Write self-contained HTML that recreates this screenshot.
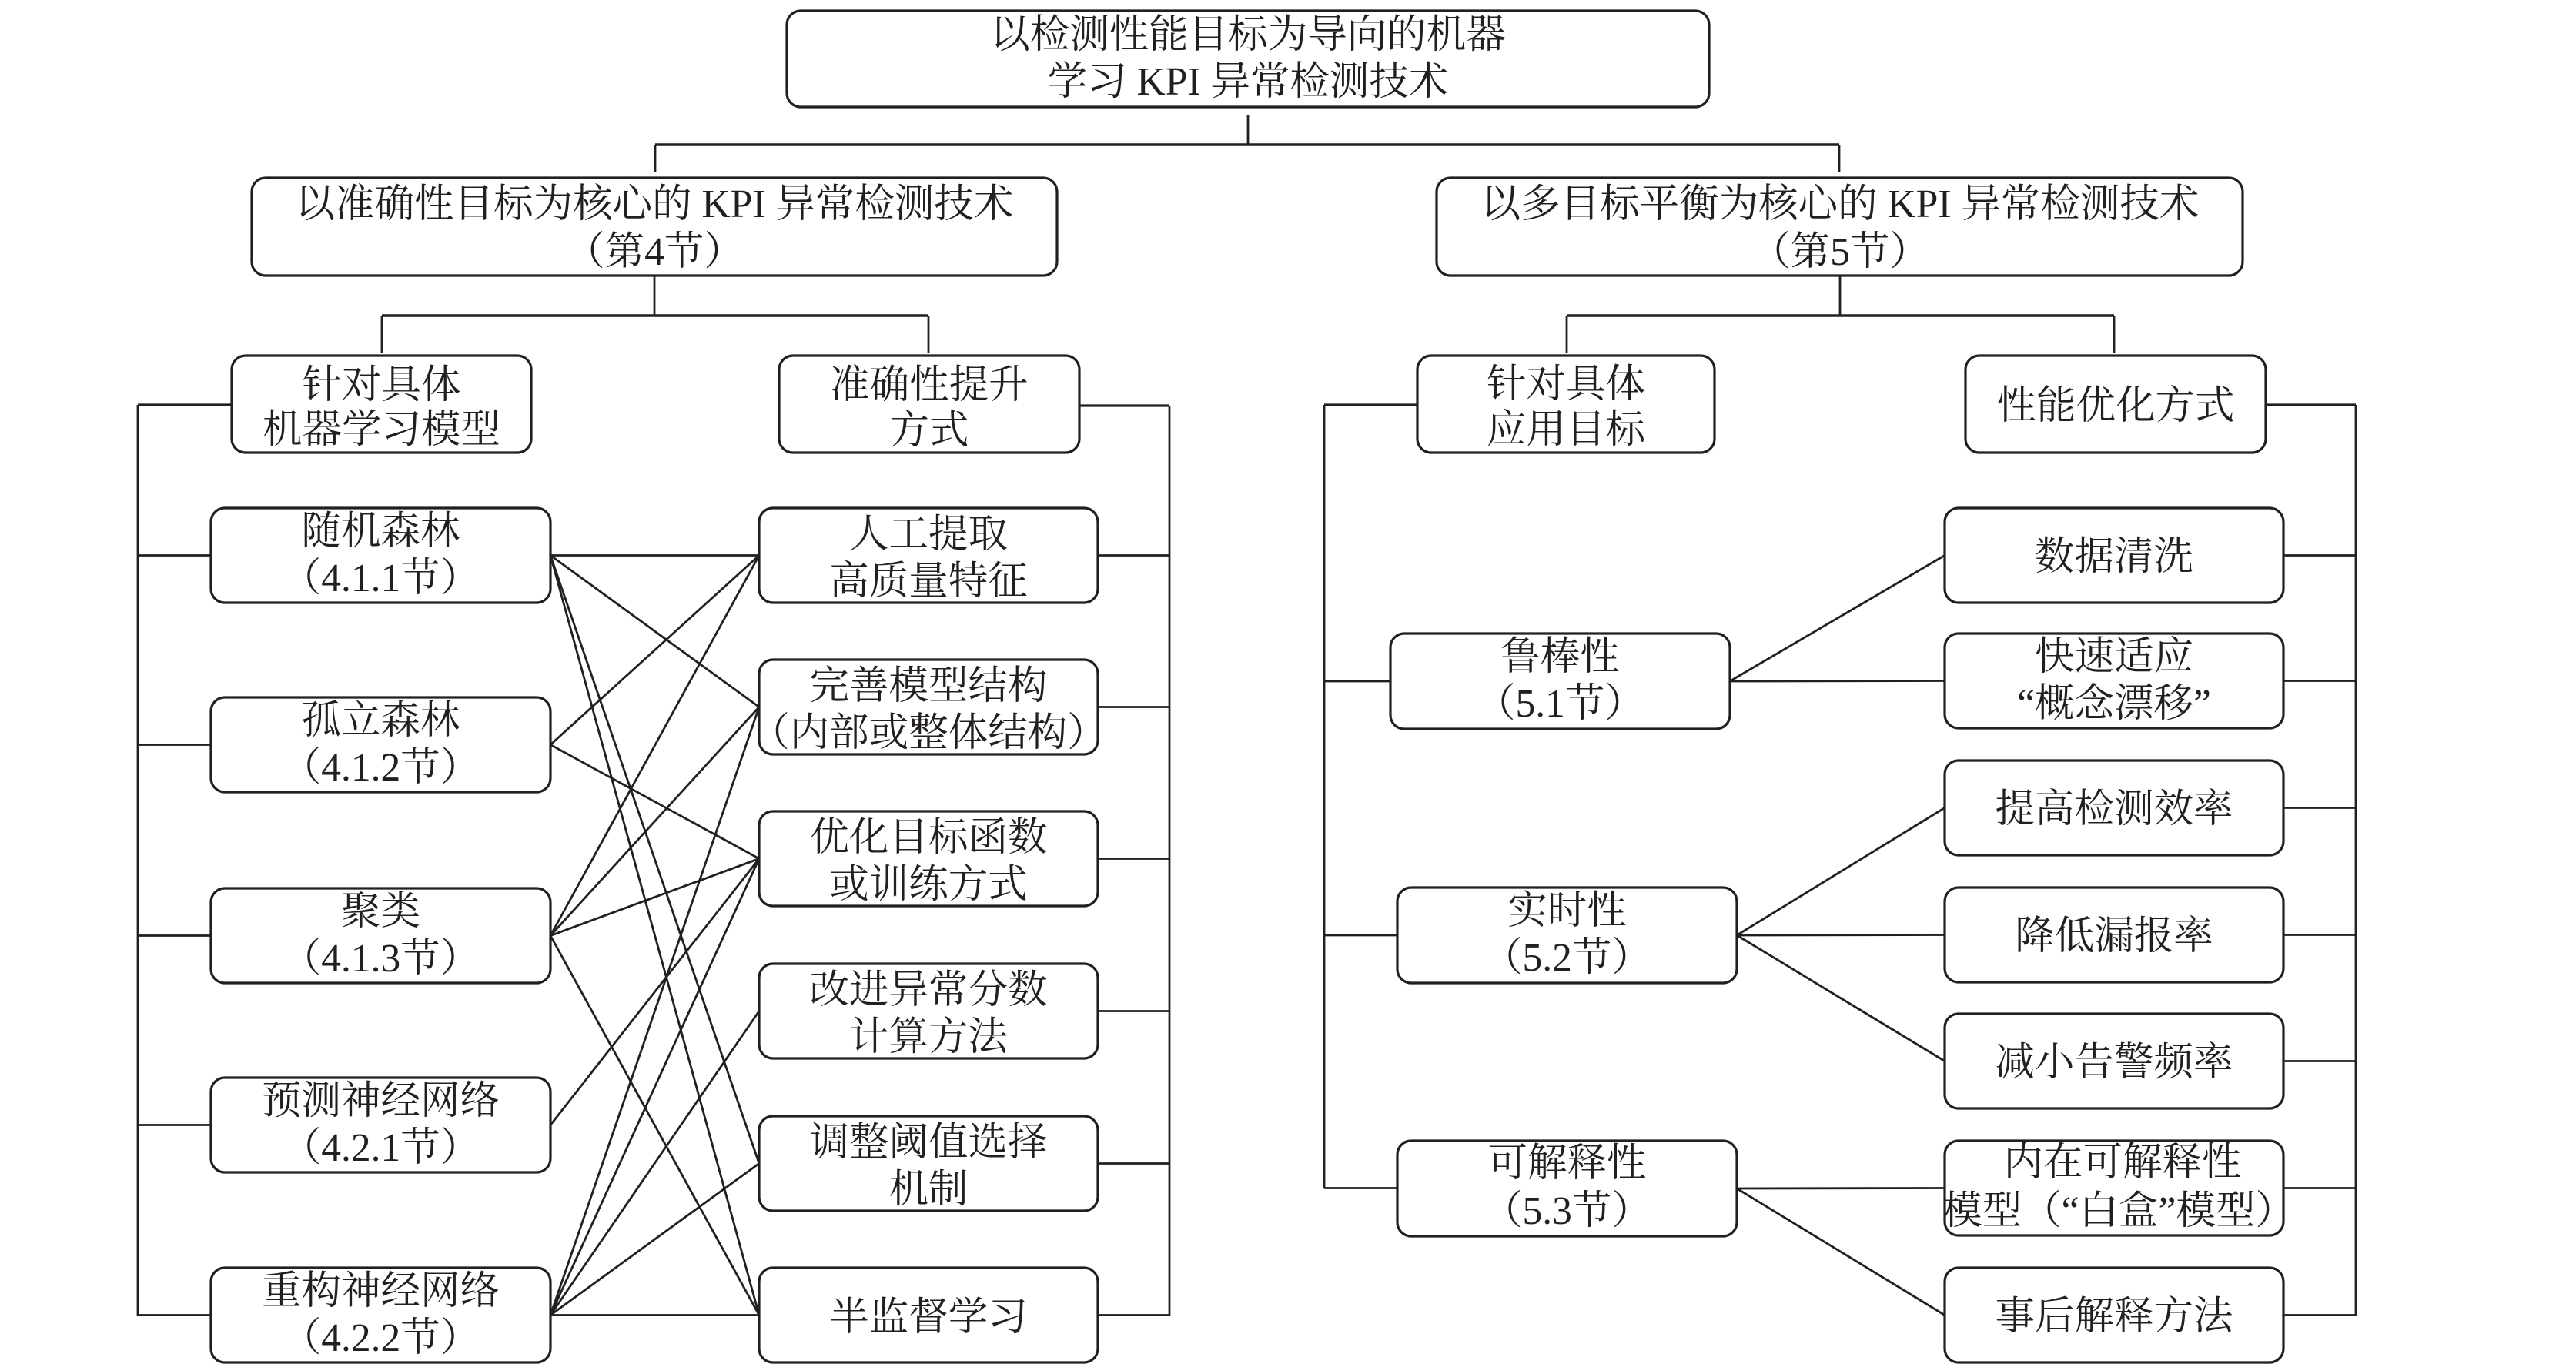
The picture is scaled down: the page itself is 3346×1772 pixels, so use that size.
<!DOCTYPE html>
<html>
<head>
<meta charset="utf-8">
<style>
  html,body{margin:0;padding:0;background:#fff;}
  svg{display:block;}
  text{font-family:"Liberation Serif","Noto Serif CJK SC","Noto Serif CJK JP",serif;font-size:51.5px;fill:#231f20;text-anchor:middle;}
</style>
</head>
<body>
<svg width="3346" height="1772" viewBox="0 0 3346 1772" xmlns="http://www.w3.org/2000/svg">
  <rect x="0" y="0" width="3346" height="1772" fill="#fff"/>

  <!-- connectors -->
  <g stroke="#231f20" stroke-width="2.8" fill="none" stroke-linecap="butt">
    <!-- top level -->
    <line x1="1621" y1="149" x2="1621" y2="188"/>
    <line x1="851" y1="188" x2="2389" y2="188" stroke-width="3.4"/>
    <line x1="851" y1="188" x2="851" y2="223"/>
    <line x1="2389" y1="188" x2="2389" y2="223"/>
    <!-- left L2 -> L3 -->
    <line x1="850" y1="358" x2="850" y2="410"/>
    <line x1="496" y1="410" x2="1206" y2="410" stroke-width="3.4"/>
    <line x1="496" y1="410" x2="496" y2="458"/>
    <line x1="1206" y1="410" x2="1206" y2="458"/>
    <!-- right L2 -> L3 -->
    <line x1="2390" y1="358" x2="2390" y2="410"/>
    <line x1="2035" y1="410" x2="2746" y2="410" stroke-width="3.4"/>
    <line x1="2035" y1="410" x2="2035" y2="458"/>
    <line x1="2746" y1="410" x2="2746" y2="458"/>

    <!-- bus 1 (models) -->
    <line x1="179" y1="526" x2="301" y2="526" stroke-width="3.2"/>
    <line x1="179" y1="526" x2="179" y2="1709"/>
    <line x1="179" y1="721.5" x2="274" y2="721.5"/>
    <line x1="179" y1="967.5" x2="274" y2="967.5"/>
    <line x1="179" y1="1215.5" x2="274" y2="1215.5"/>
    <line x1="179" y1="1461.5" x2="274" y2="1461.5"/>
    <line x1="179" y1="1708.5" x2="274" y2="1708.5"/>

    <!-- bus 2 (methods) -->
    <line x1="1402" y1="527" x2="1519" y2="527" stroke-width="3.2"/>
    <line x1="1519" y1="527" x2="1519" y2="1710"/>
    <line x1="1426" y1="721.5" x2="1519" y2="721.5"/>
    <line x1="1426" y1="918.5" x2="1519" y2="918.5"/>
    <line x1="1426" y1="1115.5" x2="1519" y2="1115.5"/>
    <line x1="1426" y1="1313.5" x2="1519" y2="1313.5"/>
    <line x1="1426" y1="1511.5" x2="1519" y2="1511.5"/>
    <line x1="1426" y1="1708.5" x2="1519" y2="1708.5"/>

    <!-- bus 3 (targets) -->
    <line x1="1720" y1="526" x2="1841" y2="526" stroke-width="3.2"/>
    <line x1="1720" y1="526" x2="1720" y2="1544"/>
    <line x1="1720" y1="885" x2="1806" y2="885"/>
    <line x1="1720" y1="1215" x2="1815" y2="1215"/>
    <line x1="1720" y1="1543.5" x2="1815" y2="1543.5"/>

    <!-- bus 4 (optimisations) -->
    <line x1="2943" y1="526" x2="3060" y2="526" stroke-width="3.2"/>
    <line x1="3060" y1="526" x2="3060" y2="1710"/>
    <line x1="2966" y1="721.5" x2="3060" y2="721.5"/>
    <line x1="2966" y1="884.5" x2="3060" y2="884.5"/>
    <line x1="2966" y1="1049.5" x2="3060" y2="1049.5"/>
    <line x1="2966" y1="1214.5" x2="3060" y2="1214.5"/>
    <line x1="2966" y1="1378.5" x2="3060" y2="1378.5"/>
    <line x1="2966" y1="1543.5" x2="3060" y2="1543.5"/>
    <line x1="2966" y1="1708.5" x2="3060" y2="1708.5"/>

    <!-- crossing links: models -> methods -->
    <line x1="715" y1="721.5" x2="986" y2="721.5"/>
    <line x1="715" y1="721.5" x2="986" y2="918.5"/>
    <line x1="715" y1="721.5" x2="986" y2="1511.5"/>
    <line x1="715" y1="721.5" x2="986" y2="1708.5"/>
    <line x1="715" y1="967.5" x2="986" y2="721.5"/>
    <line x1="715" y1="967.5" x2="986" y2="1115.5"/>
    <line x1="715" y1="1215.5" x2="986" y2="721.5"/>
    <line x1="715" y1="1215.5" x2="986" y2="918.5"/>
    <line x1="715" y1="1215.5" x2="986" y2="1115.5"/>
    <line x1="715" y1="1215.5" x2="986" y2="1708.5"/>
    <line x1="715" y1="1461.5" x2="986" y2="1115.5"/>
    <line x1="715" y1="1708.5" x2="986" y2="918.5"/>
    <line x1="715" y1="1708.5" x2="986" y2="1115.5"/>
    <line x1="715" y1="1708.5" x2="986" y2="1313.5"/>
    <line x1="715" y1="1708.5" x2="986" y2="1511.5"/>
    <line x1="715" y1="1708.5" x2="986" y2="1708.5"/>

    <!-- right side links -->
    <line x1="2247" y1="885" x2="2526" y2="721.5"/>
    <line x1="2247" y1="885" x2="2526" y2="884.5"/>
    <line x1="2256" y1="1215" x2="2526" y2="1049.5"/>
    <line x1="2256" y1="1215" x2="2526" y2="1214.5"/>
    <line x1="2256" y1="1215" x2="2526" y2="1378.5"/>
    <line x1="2256" y1="1544" x2="2526" y2="1543.5"/>
    <line x1="2256" y1="1544" x2="2526" y2="1708.5"/>
  </g>

  <!-- boxes -->
  <g stroke="#231f20" stroke-width="3.2" fill="#fff">
    <rect x="1022" y="14" width="1198" height="125" rx="18"/>
    <rect x="327" y="231" width="1046" height="127" rx="18"/>
    <rect x="1866" y="231" width="1047" height="127" rx="18"/>

    <rect x="301" y="462" width="389" height="126" rx="18"/>
    <rect x="1012" y="462" width="390" height="126" rx="18"/>
    <rect x="1841" y="462" width="386" height="126" rx="18"/>
    <rect x="2553" y="462" width="390" height="126" rx="18"/>

    <rect x="274" y="660" width="441" height="123" rx="18"/>
    <rect x="274" y="906" width="441" height="123" rx="18"/>
    <rect x="274" y="1154" width="441" height="123" rx="18"/>
    <rect x="274" y="1400" width="441" height="123" rx="18"/>
    <rect x="274" y="1647" width="441" height="123" rx="18"/>

    <rect x="986" y="660" width="440" height="123" rx="18"/>
    <rect x="986" y="857" width="440" height="123" rx="18"/>
    <rect x="986" y="1054" width="440" height="123" rx="18"/>
    <rect x="986" y="1252" width="440" height="123" rx="18"/>
    <rect x="986" y="1450" width="440" height="123" rx="18"/>
    <rect x="986" y="1647" width="440" height="123" rx="18"/>

    <rect x="1806" y="823" width="441" height="124" rx="18"/>
    <rect x="1815" y="1153" width="441" height="124" rx="18"/>
    <rect x="1815" y="1482" width="441" height="124" rx="18"/>

    <rect x="2526" y="660" width="440" height="123" rx="18"/>
    <rect x="2526" y="823" width="440" height="123" rx="18"/>
    <rect x="2526" y="988" width="440" height="123" rx="18"/>
    <rect x="2526" y="1153" width="440" height="123" rx="18"/>
    <rect x="2526" y="1317" width="440" height="123" rx="18"/>
    <rect x="2526" y="1482" width="440" height="123" rx="18"/>
    <rect x="2526" y="1647" width="440" height="123" rx="18"/>
  </g>

  <!-- text -->
  <g>
    <text x="1621" y="62">以检测性能目标为导向的机器</text>
    <text x="1621" y="123">学习 KPI 异常检测技术</text>

    <text x="850" y="282">以准确性目标为核心的 KPI 异常检测技术</text>
    <text x="850" y="344">（第4节）</text>
    <text x="2390" y="282">以多目标平衡为核心的 KPI 异常检测技术</text>
    <text x="2390" y="344">（第5节）</text>

    <text x="495.5" y="517">针对具体</text>
    <text x="495.5" y="575">机器学习模型</text>
    <text x="1207" y="517">准确性提升</text>
    <text x="1207" y="576">方式</text>
    <text x="2034" y="516">针对具体</text>
    <text x="2034" y="575">应用目标</text>
    <text x="2748" y="544">性能优化方式</text>

    <text x="494.5" y="707">随机森林</text>
    <text x="494.5" y="768">（4.1.1节）</text>
    <text x="494.5" y="953">孤立森林</text>
    <text x="494.5" y="1014">（4.1.2节）</text>
    <text x="494.5" y="1201">聚类</text>
    <text x="494.5" y="1262">（4.1.3节）</text>
    <text x="494.5" y="1447">预测神经网络</text>
    <text x="494.5" y="1508">（4.2.1节）</text>
    <text x="494.5" y="1694">重构神经网络</text>
    <text x="494.5" y="1755">（4.2.2节）</text>

    <text x="1206" y="711">人工提取</text>
    <text x="1206" y="772">高质量特征</text>
    <text x="1206" y="908">完善模型结构</text>
    <text x="1206" y="969">（内部或整体结构）</text>
    <text x="1206" y="1105">优化目标函数</text>
    <text x="1206" y="1166">或训练方式</text>
    <text x="1206" y="1303">改进异常分数</text>
    <text x="1206" y="1364">计算方法</text>
    <text x="1206" y="1501">调整阈值选择</text>
    <text x="1206" y="1562">机制</text>
    <text x="1206" y="1728">半监督学习</text>

    <text x="2026.5" y="870">鲁棒性</text>
    <text x="2026.5" y="931">（5.1节）</text>
    <text x="2035.5" y="1200">实时性</text>
    <text x="2035.5" y="1261">（5.2节）</text>
    <text x="2035.5" y="1528">可解释性</text>
    <text x="2035.5" y="1590">（5.3节）</text>

    <text x="2746" y="740">数据清洗</text>
    <text x="2746" y="870">快速适应</text>
    <text x="2746" y="931">“概念漂移”</text>
    <text x="2746" y="1068">提高检测效率</text>
    <text x="2746" y="1233">降低漏报率</text>
    <text x="2746" y="1397">减小告警频率</text>
    <text x="2757" y="1527">内在可解释性</text>
    <text x="2752" y="1590">模型（“白盒”模型）</text>
    <text x="2746" y="1727">事后解释方法</text>
  </g>
</svg>
</body>
</html>
